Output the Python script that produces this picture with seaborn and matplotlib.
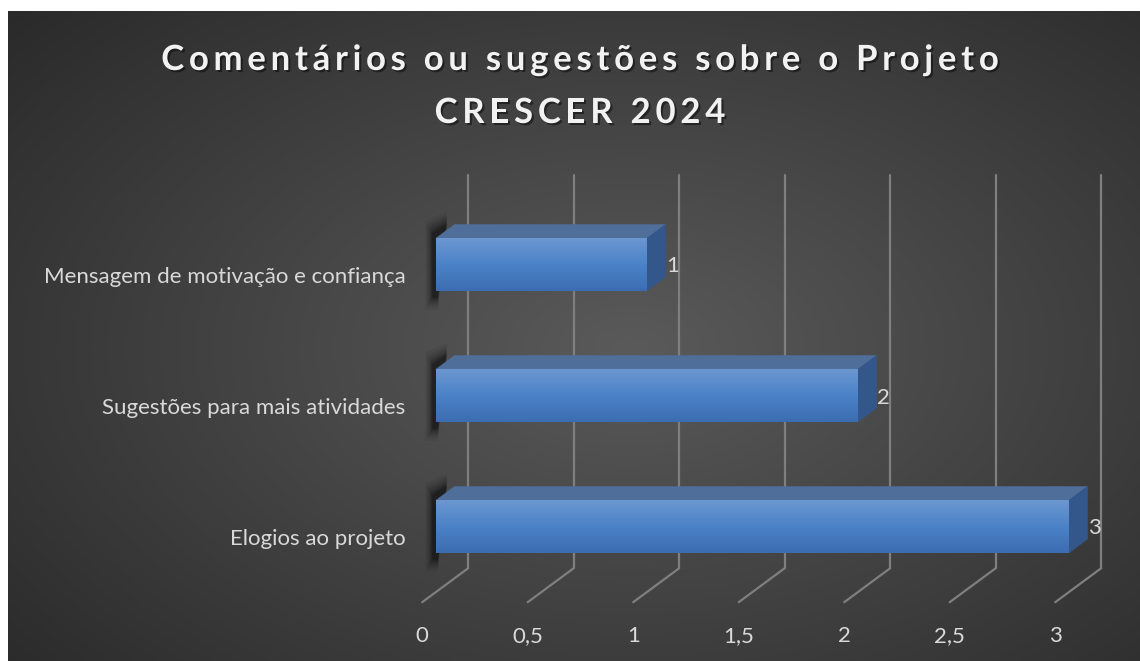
import numpy as np
import pandas as pd
import matplotlib
matplotlib.use("Agg")
import matplotlib.pyplot as plt
import matplotlib.patheffects as pe
from matplotlib.patches import Polygon
from matplotlib.transforms import IdentityTransform, ScaledTranslation
from matplotlib.colors import LinearSegmentedColormap
import seaborn as sns

# dados
categorias = ["Mensagem de motivação e confiança", "Sugestões para mais atividades", "Elogios ao projeto"]
respostas = [1, 2, 3]
ticks_x = [0, 0.5, 1, 1.5, 2, 2.5, 3]
rotulos_x = ["0", "0,5", "1", "1,5", "2", "2,5", "3"]
titulo = ["Comentários ou sugestões sobre o Projeto", "CRESCER 2024"]

df = pd.DataFrame({"Categoria": categorias, "Respostas": respostas})

sns.set_theme(style="dark")
plt.rcParams["font.family"] = ["Lato", "DejaVu Sans"]

W, H, DPI = 1140, 661, 100
fig = plt.figure(figsize=(W / DPI, H / DPI), dpi=DPI)
fig.patch.set_facecolor("white")

# fundo com gradiente radial
bg = fig.add_axes([8 / W, 0, (W - 8) / W, (H - 11) / H])
yy, xx = np.mgrid[0:1:330j, 0:1:570j]
r = np.sqrt(((xx - 0.55) / 0.8) ** 2 + ((yy - 0.52) / 0.85) ** 2)
r = np.clip(r, 0, 1)
cmap_bg = LinearSegmentedColormap.from_list("bg", ["#5a5a5a", "#262626"])
bg.imshow(r, cmap=cmap_bg, aspect="auto", vmin=0, vmax=1)
bg.set_axis_off()

# eixo principal = plano frontal das barras
y_top, y_bot = 199, 592
ax = fig.add_axes([436 / W, (H - y_bot) / H, 633 / W, (y_bot - y_top) / H])
ax.set_facecolor("none")
sns.barplot(data=df, x="Respostas", y="Categoria", orient="h", width=0.4,
            color="#4a7ec4", saturation=1, ax=ax, zorder=3, linewidth=0, edgecolor="none")
ax.set_xlim(0, 3)
ax.set_ylim(2.5, -0.5)
for s in ax.spines.values():
    s.set_visible(False)
ax.grid(False)

# profundidade: deslocamento em pixels por unidade de profundidade
PX, PY = 46.0, 34.0
D0 = 0.3  # profundidade do plano frontal das barras

def desloc(d):
    return ScaledTranslation(PX * (d - D0) / DPI, PY * (d - D0) / DPI, fig.dpi_scale_trans)

cor_grade = "#7f7f7f"
tr_fundo = ax.get_xaxis_transform() + desloc(1.0)
for xv in ticks_x:
    ax.plot([xv, xv], [0, 1], color=cor_grade, lw=1.6, transform=tr_fundo,
            clip_on=False, zorder=0.5)
    a = (ax.get_xaxis_transform() + desloc(1.0)).transform((xv, 0))
    b = (ax.get_xaxis_transform() + desloc(0.0)).transform((xv, 0))
    ax.plot([a[0], b[0]], [a[1], b[1]], color=cor_grade, lw=1.6,
            transform=IdentityTransform(), clip_on=False, zorder=0.5)

# faces 3D das barras
cmap_bar = LinearSegmentedColormap.from_list("bar", ["#6c97d1", "#4b82c7", "#3c6db2"])
dx, dy = PX * 0.4, PY * 0.4
for p in list(ax.patches):
    x0, y0, w, h = p.get_x(), p.get_y(), p.get_width(), p.get_height()
    (xa, ya), (xb, yb) = ax.transData.transform([(x0, y0), (x0 + w, y0 + h)])
    top, bot = max(ya, yb), min(ya, yb)
    # sombra à esquerda (desfocada)
    for k, al in zip([13, 10, 7.5, 5, 3, 1.2], [0.06, 0.08, 0.10, 0.13, 0.16, 0.2]):
        sh = [(xa - 3 - k * 0.6, bot - 6 - k), (xa - 3 - k * 0.6, top + 4 + k),
              (xa + dx * 0.6, top + dy + k), (xa + 2, bot - 6 - k)]
        ax.add_patch(Polygon(sh, closed=True, facecolor="black", edgecolor="none", alpha=al,
                             transform=IdentityTransform(), zorder=1, clip_on=False))
    # topo
    topo = [(xa, top), (xb, top), (xb + dx, top + dy), (xa + dx, top + dy)]
    ax.add_patch(Polygon(topo, closed=True, facecolor="#4f6e99", edgecolor="#4f6e99", lw=0.5,
                         transform=IdentityTransform(), zorder=3, clip_on=False))
    # lateral
    lado = [(xb, bot), (xb, top), (xb + dx, top + dy), (xb + dx, bot + dy)]
    ax.add_patch(Polygon(lado, closed=True, facecolor="#33578a", edgecolor="#33578a", lw=0.5,
                         transform=IdentityTransform(), zorder=3, clip_on=False))
    # frente com gradiente
    grad = np.linspace(0, 1, 64).reshape(-1, 1)
    im = ax.imshow(grad, cmap=cmap_bar, aspect="auto", extent=(x0, x0 + w, y0 + h, y0),
                   origin="upper", zorder=3.5)
    im.set_clip_path(p)
    # rótulo de valor
    ax.text(xb + dx + 1, (top + bot) / 2 - 2, f"{w:g}", transform=IdentityTransform(),
            ha="left", va="center", fontsize=16, color="#d9d9d9", zorder=5)

ax.set_xlim(0, 3)
ax.set_ylim(2.5, -0.5)

# ticks
ax.set_xticks(ticks_x)
ax.set_xticklabels(rotulos_x)
ax.set_xlabel("")
ax.set_ylabel("")
ax.tick_params(axis="x", length=0, pad=17, labelsize=16, labelcolor="#d9d9d9")
ax.tick_params(axis="y", length=0, pad=12, labelsize=16, labelcolor="#d9d9d9")
for lab in ax.get_xticklabels() + ax.get_yticklabels():
    lab.set_transform(lab.get_transform() + desloc(0.0))

# título com espaçamento entre letras
renderer = fig.canvas.get_renderer()
sombra = [pe.SimplePatchShadow(offset=(1.5, -1.5), shadow_rgbFace="black", alpha=0.45), pe.Normal()]

def largura(s, size):
    t = fig.text(0, 0, s, fontsize=size, weight="bold")
    w = t.get_window_extent(renderer).width
    t.remove()
    return w

def titulo_espacado(s, yc, size, esp):
    base = largura("||", size)
    larg = [largura("|" + c + "|", size) - base for c in s]
    total = sum(larg) + esp * (len(s) - 1)
    x = 580 - total / 2
    for c, wc in zip(s, larg):
        fig.text(x / W, 1 - yc / H, c, fontsize=size, weight="bold", color="#f2f2f2",
                 ha="left", va="baseline", path_effects=sombra)
        x += wc + esp

titulo_espacado(titulo[0], 70, 25, 4.7)
titulo_espacado(titulo[1], 123, 25, 4.7)

fig.savefig("out.png", dpi=DPI)
